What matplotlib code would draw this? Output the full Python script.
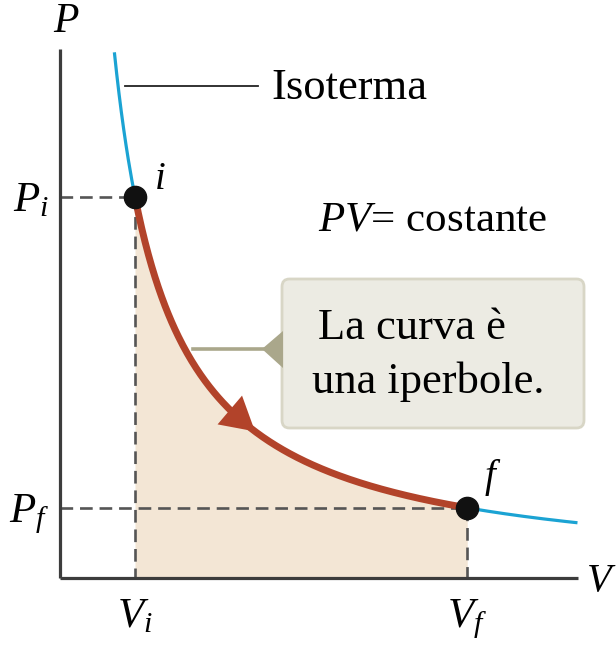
import numpy as np
import matplotlib
matplotlib.use("Agg")
import matplotlib.pyplot as plt
from matplotlib.patches import FancyBboxPatch, Polygon
from matplotlib.lines import Line2D

plt.rcParams['font.family'] = ['Liberation Serif', 'DejaVu Serif']
plt.rcParams['mathtext.fontset'] = 'custom'
plt.rcParams['mathtext.rm'] = 'Liberation Serif'
plt.rcParams['mathtext.it'] = 'Liberation Serif:italic'

# Isothermal process, PV = const (arbitrary units, V_i = P_i = 1)
pv_const = 1.0
V_i = 1.0
V_f = 5.43
V_iso_start = 0.725
V_iso_end = 6.9
P_i = pv_const / V_i
P_f = pv_const / V_f
x_ticks = [V_i, V_f]
x_labels = ['$V_i$', '$V_f$']
y_ticks = [P_f, P_i]
y_labels = ['$P_f$', '$P_i$']

W, H = 616, 649
fig = plt.figure(figsize=(W / 100, H / 100), dpi=100)
ax = fig.add_axes([60 / W, (H - 578) / H, (578 - 60) / W, (578 - 49) / H])
ax.set_xlim(0, 6.907)
ax.set_ylim(0, 1.388)

for side in ('top', 'right'):
    ax.spines[side].set_visible(False)
for side in ('left', 'bottom'):
    ax.spines[side].set_color('#3c3c3c')
    ax.spines[side].set_linewidth(2.3)
    ax.spines[side].set_capstyle('butt')

ax.set_xticks(x_ticks)
ax.set_xticklabels(x_labels)
ax.set_yticks(y_ticks)
ax.set_yticklabels(y_labels)
ax.tick_params(axis='x', length=0, pad=14, labelsize=31)
ax.tick_params(axis='y', length=0, pad=8, labelsize=31)

red = '#b2432a'
blue = '#1ba3d3'
dash_col = '#555555'

# shaded work area under the process path
V_path = np.linspace(V_i, V_f, 300)
ax.fill_between(V_path, pv_const / V_path, 0, color='#f3e6d5', lw=0, zorder=1)

# guide lines to the axes
dash = (0, (4.8, 2.6))
ax.plot([0, V_i], [P_i, P_i], color=dash_col, lw=1.9, ls=dash, zorder=2)
ax.plot([0, V_f], [P_f, P_f], color=dash_col, lw=1.9, ls=dash, zorder=2)
ax.plot([V_i, V_i], [P_i, 0], color=dash_col, lw=1.9, ls=dash, zorder=2)
ax.plot([V_f, V_f], [P_f, 0], color=dash_col, lw=1.9, ls=dash, zorder=2)

# isotherm
V_iso = np.linspace(V_iso_start, V_iso_end, 400)
ax.plot(V_iso, pv_const / V_iso, color=blue, lw=2.3, zorder=3, solid_capstyle='butt')

# process path i -> f
ax.plot(V_path, pv_const / V_path, color=red, lw=5, zorder=4, solid_capstyle='butt')
V_a0, V_a1 = 2.3, 2.6
ax.annotate('', xy=(V_a1, pv_const / V_a1), xytext=(V_a0, pv_const / V_a0),
            arrowprops=dict(arrowstyle='-|>,head_length=0.7,head_width=0.4',
                            color=red, lw=0, mutation_scale=34, shrinkA=0, shrinkB=0),
            zorder=5)

# state points
ax.plot([V_i, V_f], [P_i, P_f], 'o', color='#111111', ms=16, zorder=6)
ax.text(V_i + 0.25, P_i + 0.045, '$i$', fontsize=28, ha='left', va='center')
ax.text(V_f + 0.22, P_f + 0.08, '$f$', fontsize=28, ha='left', va='center')

# axis names
fig.text(66 / W, 1 - 22 / H, '$P$', fontsize=30, ha='center', va='center')
fig.text(586 / W, 1 - 582 / H, '$V$', fontsize=29, ha='left', va='center')

# isotherm label with leader
fig.add_artist(Line2D([125 / W, 258 / W], [1 - 86 / H, 1 - 86 / H],
                      color='#222222', lw=1.3))
fig.text(271 / W, 1 - 88 / H, 'Isoterma', fontsize=32, ha='left', va='center')

fig.text(318 / W, 1 - 220 / H, '$PV$= costante', fontsize=31, ha='left', va='center')

# callout box
olive = '#aaa78b'
box = FancyBboxPatch((282 / W, 1 - 428 / H), (584 - 282) / W, (428 - 279) / H,
                     boxstyle='round,pad=0,rounding_size=0.012',
                     transform=fig.transFigure, facecolor='#ecebe3',
                     edgecolor='#d8d6c6', lw=2.0, zorder=1)
fig.add_artist(box)
fig.add_artist(Polygon([[262 / W, 1 - 349 / H], [283 / W, 1 - 331 / H], [283 / W, 1 - 368 / H]],
                       closed=True, transform=fig.transFigure, facecolor=olive,
                       edgecolor='none', zorder=2))
fig.add_artist(Line2D([193 / W, 264 / W], [1 - 349 / H, 1 - 349 / H], color=olive, lw=2.6))
fig.text(318 / W, 1 - 328 / H, 'La curva è', fontsize=32, ha='left', va='center', zorder=3)
fig.text(312 / W, 1 - 382 / H, 'una iperbole.', fontsize=32, ha='left', va='center', zorder=3)

fig.savefig('out.png', dpi=100, facecolor='white')
